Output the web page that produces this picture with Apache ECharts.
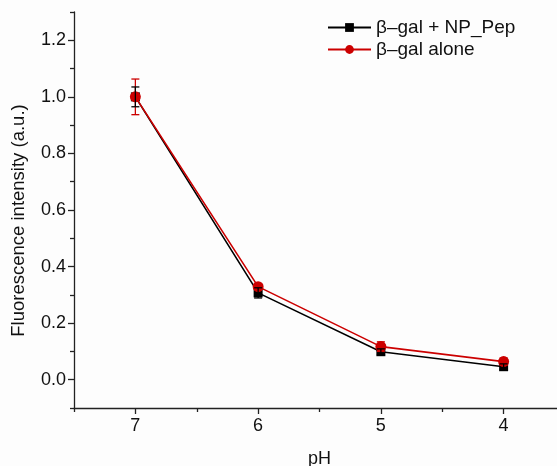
<!DOCTYPE html>
<html>
<head>
<meta charset="utf-8">
<script src="https://cdn.jsdelivr.net/npm/echarts@6/dist/echarts.min.js"></script>
<style>html,body{margin:0;padding:0;background:#fdfdfd;}#c{width:557px;height:466px;}</style>
</head>
<body>
<div id="c"></div>
<script>
// ---- data ----
var phValues = [7, 6, 5, 4];
var npPep = [1.0, 0.307, 0.099, 0.046];
var npPepErr = [0.035, 0.018, 0.010, 0.010];
var alone = [1.0, 0.329, 0.117, 0.064];
var aloneErr = [0.063, 0.010, 0.017, 0.013];
var xMajorTicks = [4, 5, 6, 7];
var xMinorTicks = [3.5, 4.5, 5.5, 6.5, 7.5];
var yMajorTicks = [0.0, 0.2, 0.4, 0.6, 0.8, 1.0, 1.2];
var yMinorTicks = [-0.1, 0.1, 0.3, 0.5, 0.7, 0.9, 1.1, 1.3];
var seriesNames = ['\u03b2\u2013gal + NP_Pep', '\u03b2\u2013gal alone'];

var RED = '#cc0000';
var FONT = 'Liberation Sans, Arial, sans-serif';

function pts(ys) { return phValues.map(function (p, i) { return [p, ys[i]]; }); }
function errPts(ys, es) { return phValues.map(function (p, i) { return [p, ys[i], es[i]]; }); }

function errRender(color) {
  return function (params, api) {
    var x = api.value(0), y = api.value(1), e = api.value(2);
    var top = api.coord([x, y + e]);
    var bot = api.coord([x, y - e]);
    var hw = 4;
    var st = { stroke: color, lineWidth: 1.3 };
    return {
      type: 'group',
      children: [
        { type: 'line', shape: { x1: top[0], y1: top[1], x2: bot[0], y2: bot[1] }, style: st },
        { type: 'line', shape: { x1: top[0] - hw, y1: top[1], x2: top[0] + hw, y2: top[1] }, style: st },
        { type: 'line', shape: { x1: bot[0] - hw, y1: bot[1], x2: bot[0] + hw, y2: bot[1] }, style: st }
      ]
    };
  };
}

var chart = echarts.init(document.getElementById('c'));
var axisLine = { show: true, onZero: false, lineStyle: { color: '#222', width: 1.3 } };
chart.setOption({
  backgroundColor: '#fdfdfd',
  animation: false,
  textStyle: { fontFamily: FONT },
  grid: { left: 74, top: 12, width: 491, bottom: 58, containLabel: false, outerBoundsMode: 'none' },
  legend: {
    data: seriesNames,
    orient: 'vertical',
    left: 327,
    top: 18,
    padding: 0,
    itemWidth: 43,
    itemHeight: 11,
    itemGap: 3,
    textStyle: { fontFamily: FONT, fontSize: 19, color: '#111', lineHeight: 19 }
  },
  xAxis: [{
    type: 'value', min: 3.5, max: 7.5, interval: 0.5, inverse: true,
    name: 'pH', nameLocation: 'middle', nameGap: 42,
    nameTextStyle: { fontFamily: FONT, fontSize: 18, color: '#111' },
    axisLine: axisLine,
    splitLine: { show: false },
    axisTick: { show: true, inside: false, length: 6, customValues: xMajorTicks, lineStyle: { color: '#222', width: 1.3 } },
    axisLabel: { customValues: xMajorTicks, margin: 9, fontFamily: FONT, fontSize: 18, color: '#111', formatter: function (v) { return String(v); } }
  }, {
    type: 'value', min: 3.5, max: 7.5, interval: 0.5, inverse: true, position: 'bottom',
    axisLine: { show: false, onZero: false },
    splitLine: { show: false },
    axisTick: { show: true, length: 4, customValues: xMinorTicks, lineStyle: { color: '#222', width: 1.3 } },
    axisLabel: { show: false }
  }],
  yAxis: [{
    type: 'value', min: -0.1, max: 1.3, interval: 0.1,
    name: 'Fluorescence intensity (a.u.)', nameLocation: 'middle', nameGap: 46,
    nameTextStyle: { fontFamily: FONT, fontSize: 18.5, color: '#111', padding: [0, 0, 0, -21] },
    axisLine: axisLine,
    splitLine: { show: false },
    axisTick: { show: true, length: 6, customValues: yMajorTicks, lineStyle: { color: '#222', width: 1.3 } },
    axisLabel: { customValues: yMajorTicks, margin: 8, fontFamily: FONT, fontSize: 18, color: '#111', formatter: function (v) { return v.toFixed(1); } }
  }, {
    type: 'value', min: -0.1, max: 1.3, interval: 0.1, position: 'left',
    axisLine: { show: false, onZero: false },
    splitLine: { show: false },
    axisTick: { show: true, length: 4, customValues: yMinorTicks, lineStyle: { color: '#222', width: 1.3 } },
    axisLabel: { show: false }
  }],
  series: [{
    name: seriesNames[0], type: 'line', xAxisIndex: 0, yAxisIndex: 0,
    data: pts(npPep),
    symbol: 'rect', symbolSize: 9,
    itemStyle: { color: '#000' },
    lineStyle: { color: '#000', width: 1.6 },
    z: 2
  }, {
    name: seriesNames[1], type: 'line', xAxisIndex: 0, yAxisIndex: 0,
    data: pts(alone),
    symbol: 'circle', symbolSize: 11,
    itemStyle: { color: RED },
    lineStyle: { color: RED, width: 1.6 },
    z: 3
  }, {
    type: 'custom', xAxisIndex: 0, yAxisIndex: 0,
    data: errPts(alone, aloneErr),
    renderItem: errRender(RED),
    z: 4, silent: true
  }, {
    type: 'custom', xAxisIndex: 0, yAxisIndex: 0,
    data: errPts(npPep, npPepErr),
    renderItem: errRender('#000'),
    z: 5, silent: true
  }]
});
</script>
</body>
</html>
